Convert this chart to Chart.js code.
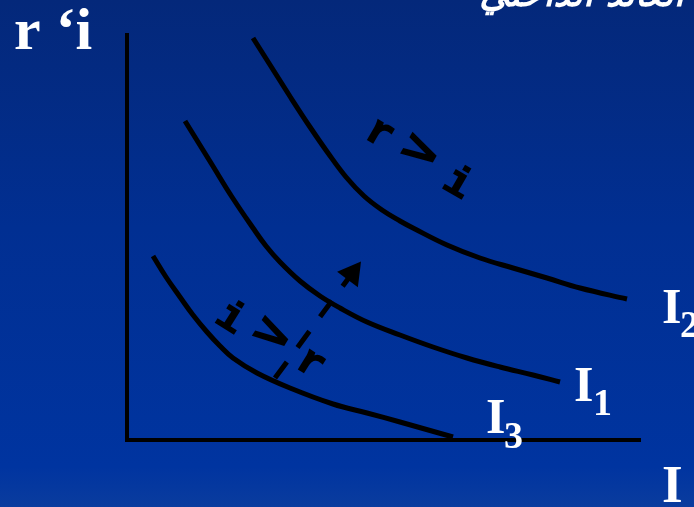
<!DOCTYPE html>
<html>
<head>
<meta charset="utf-8">
<script src="https://cdn.jsdelivr.net/npm/chart.js@4"></script>
<style>
  html, body { margin: 0; padding: 0; }
  body {
    width: 694px; height: 507px; overflow: hidden;
    background: linear-gradient(to bottom, #04287a 0%, #012f92 45%, #0034a0 92%, #0a3c9e 100%);
  }
  canvas { display: block; }
</style>
</head>
<body>
<canvas id="chart" width="694" height="507"></canvas>
<script>
// Investment schedules: x = investment I, y = rate (r, i), arbitrary units
const curveI2X = [126, 145, 164, 183, 201, 219, 237, 255, 273, 286, 320, 353, 386, 420, 453, 500];
const curveI2Y = [402, 372, 342, 313, 287, 263, 244, 230, 219, 212, 195, 182, 172, 162, 152, 141];

const curveI1X = [58, 71, 84, 105, 126, 139, 153, 173, 193, 213, 240, 273, 306, 340, 373, 406, 433];
const curveI1Y = [319, 298, 277, 243, 212, 194, 178, 159, 144, 132, 118, 105, 93, 82, 73, 65, 58];

const curveI3X = [26, 39, 53, 66, 80, 93, 106, 130, 163, 206, 240, 273, 326];
const curveI3Y = [184, 163, 143, 125, 108, 94, 82, 67, 52, 36, 27, 18, 3];

// shift arrow from I3 towards I2
const arrowX = [148, 225];
const arrowY = [62, 166.5];

const curveNames = ['I2', 'I1', 'I3'];

const toPoints = (xs, ys) => xs.map((v, k) => ({ x: v, y: ys[k] }));

const curveStyle = {
  showLine: true,
  borderColor: '#000',
  borderWidth: 5,
  pointRadius: 0,
  tension: 0.4,
  fill: false
};

// text drawn over the plot: curve names, axis names, inequality notes, heading
const labelsPlugin = {
  id: 'diagramLabels',
  afterDatasetsDraw(chart) {
    const { ctx, scales: { x, y } } = chart;
    const px = v => x.getPixelForValue(v);
    const py = v => y.getPixelForValue(v);

    ctx.save();

    // rotated glyphs, each centred on its anchor (data coordinates)
    const glyph = (ch, dx, dy, angle, sx) => {
      ctx.save();
      ctx.font = 'bold 42px "Liberation Mono"';
      ctx.textAlign = 'left';
      ctx.textBaseline = 'alphabetic';
      const m = ctx.measureText(ch);
      const cx = (m.actualBoundingBoxRight - m.actualBoundingBoxLeft) / 2;
      const cy = (m.actualBoundingBoxDescent - m.actualBoundingBoxAscent) / 2;
      ctx.translate(px(dx), py(dy));
      ctx.rotate(angle * Math.PI / 180);
      ctx.scale(sx || 1, 1);
      ctx.fillStyle = '#000';
      ctx.strokeStyle = '#000';
      ctx.lineWidth = 1.6;
      ctx.lineJoin = 'miter';
      ctx.fillText(ch, -cx, -cy);
      ctx.strokeText(ch, -cx, -cy);
      ctx.restore();
    };
    glyph('r', 254, 306, 30);
    glyph('>', 294, 289, 30, 1.45);
    glyph('i', 333, 260, 30);

    glyph('i', 106, 125, 32);
    glyph('>', 146, 106, 32, 1.45);
    glyph('r', 185, 76, 32);

    // curve names with subscripts
    ctx.fillStyle = '#fff';
    ctx.textAlign = 'left';
    ctx.textBaseline = 'alphabetic';
    const named = (main, sub, dx, dy, subDx, subDy) => {
      ctx.font = 'bold 50px "Liberation Serif"';
      ctx.fillText(main, px(dx), py(dy));
      ctx.font = 'bold 38px "Liberation Serif"';
      ctx.fillText(sub, px(dx + subDx), py(dy - subDy));
    };
    named('I', '2', 535, 117, 18, 14);
    named('I', '1', 447, 39, 19, 14);
    named('I', '3', 359, 7, 18, 15);

    // axis names
    ctx.font = 'bold 53px "Liberation Serif"';
    ctx.fillText('I', px(535), py(-62));
    ctx.font = 'bold 60px "Liberation Serif"';
    ctx.fillText('r \u2018i', px(-113), py(391));

    // heading
    ctx.font = 'italic bold 36px "DejaVu Sans"';
    ctx.textAlign = 'right';
    ctx.direction = 'rtl';
    ctx.fillText('العائد الداخلي', 684, 6);

    ctx.restore();
  }
};

new Chart(document.getElementById('chart'), {
  type: 'scatter',
  data: {
    datasets: [
      { label: curveNames[0], data: toPoints(curveI2X, curveI2Y), ...curveStyle },
      { label: curveNames[1], data: toPoints(curveI1X, curveI1Y), ...curveStyle },
      { label: curveNames[2], data: toPoints(curveI3X, curveI3Y), ...curveStyle },
      {
        label: 'shift',
        data: toPoints(arrowX, arrowY),
        showLine: true,
        borderColor: '#000',
        borderWidth: 5,
        borderDash: [20, 18],
        pointRadius: [0, 15],
        pointStyle: 'triangle',
        pointRotation: 37,
        pointBackgroundColor: '#000',
        pointBorderWidth: 0
      }
    ]
  },
  options: {
    responsive: false,
    animation: false,
    devicePixelRatio: 1,
    layout: { padding: { left: 127, right: 54, top: 35, bottom: 67 } },
    plugins: { legend: { display: false }, tooltip: { enabled: false } },
    scales: {
      x: {
        type: 'linear', min: 0, max: 513,
        grid: { display: false, drawTicks: false },
        ticks: { display: false },
        border: { display: true, color: '#000', width: 4 }
      },
      y: {
        type: 'linear', min: 0, max: 405,
        grid: { display: false, drawTicks: false },
        ticks: { display: false },
        border: { display: true, color: '#000', width: 4 }
      }
    }
  },
  plugins: [labelsPlugin]
});
</script>
</body>
</html>
